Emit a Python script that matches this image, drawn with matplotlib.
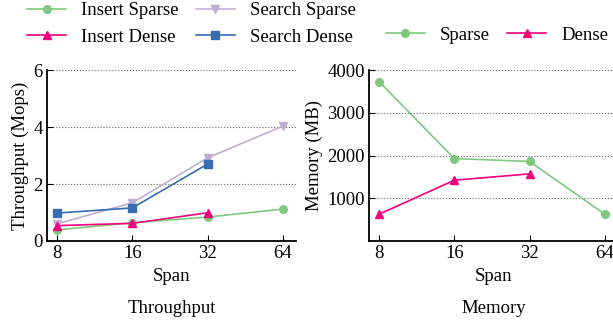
import numpy as np
import matplotlib
matplotlib.use("Agg")
import matplotlib.pyplot as plt

plt.rcParams['font.family'] = ['Liberation Serif', 'DejaVu Serif']
plt.rcParams['font.size'] = 13.5

# data
spans = [8, 16, 32, 64]
spans_dense = [8, 16, 32]
insert_sparse = [0.39, 0.64, 0.84, 1.12]
search_sparse = [0.60, 1.34, 2.92, 4.03]
insert_dense = [0.54, 0.62, 0.99]
search_dense = [0.98, 1.16, 2.70]
mem_sparse = [3730, 1930, 1860, 626]
mem_dense = [626, 1422, 1570]

green = '#7fc97f'
purple = '#beaed4'
pink = '#f0027f'
blue = '#386cb0'

fig = plt.figure(figsize=(6.13, 3.25), dpi=100)
ax1 = fig.add_axes([0.0767, 0.2585, 0.406, 0.526])
ax2 = fig.add_axes([0.602, 0.2585, 0.406, 0.526])

kw = dict(lw=1.2, ms=5.5)
l1, = ax1.plot(spans, insert_sparse, marker='o', color=green, label='Insert Sparse', **kw)
l2, = ax1.plot(spans, search_sparse, marker='v', color=purple, label='Search Sparse', **kw)
l3, = ax1.plot(spans_dense, insert_dense, marker='^', color=pink, label='Insert Dense', **kw)
l4, = ax1.plot(spans_dense, search_dense, marker='s', color=blue, label='Search Dense', **kw)

m1, = ax2.plot(spans, mem_sparse, marker='o', color=green, label='Sparse', **kw)
m2, = ax2.plot(spans_dense, mem_dense, marker='^', color=pink, label='Dense', **kw)

for ax in (ax1, ax2):
    ax.set_xscale('log', base=2)
    ax.set_xticks(spans)
    ax.set_xticklabels([str(s) for s in spans])
    ax.minorticks_off()
    ax.set_xlim(2 ** (3 - 10 / 75), 2 ** (6 + 13 / 75))
    ax.spines['top'].set_visible(False)
    ax.spines['right'].set_visible(False)
    ax.spines['left'].set_linewidth(1.3)
    ax.spines['bottom'].set_linewidth(1.3)
    ax.tick_params(direction='in', length=4, width=0.8, pad=3)
    ax.yaxis.grid(True, linestyle=':', color='#666666', linewidth=0.8)
    ax.set_axisbelow(True)
    ax.set_xlabel('Span', labelpad=4)

ax1.set_ylim(0, 6)
ax1.set_yticks([0, 2, 4, 6])
ax1.set_ylabel('Throughput (Mops)', labelpad=3)
ax2.set_ylim(0, 4000)
ax2.set_yticks([1000, 2000, 3000, 4000])
ax2.set_ylabel('Memory (MB)', labelpad=3)

fig.text(0.28, 0.05, 'Throughput', ha='center', va='center')
fig.text(0.806, 0.05, 'Memory', ha='center', va='center')

lkw = dict(ncol=2, frameon=False, handlelength=2.1, handletextpad=0.8,
           columnspacing=0.9, labelspacing=0.5, borderpad=0, borderaxespad=0)
fig.legend(handles=[l1, l3, l2, l4], loc='upper left',
           bbox_to_anchor=(0.044, 0.994), **lkw)
fig.legend(handles=[m1, m2], loc='upper left',
           bbox_to_anchor=(0.629, 0.918), **lkw)

fig.savefig('out.png', dpi=100)
